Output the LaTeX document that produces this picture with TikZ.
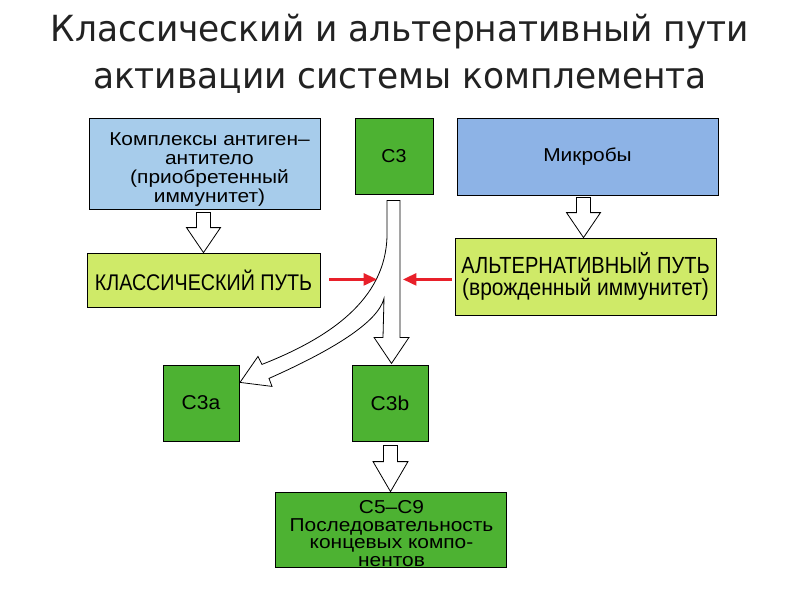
\documentclass[tikz,border=0pt]{standalone}
\usepackage{fontspec}
\usetikzlibrary{calc,arrows.meta}
\setmainfont{Liberation Sans}
\newfontfamily\fA[FakeStretch=1.12]{Liberation Sans}
\newfontfamily\fB[FakeStretch=0.87]{Liberation Sans}
\newfontfamily\fC[FakeStretch=0.86]{Liberation Sans}
\newfontfamily\fD[FakeStretch=0.90]{Liberation Sans}
\newfontfamily\fN[FakeStretch=1.05]{Liberation Sans}
\newfontfamily\titlefont[FakeStretch=0.955]{DejaVu Sans}
\definecolor{greenc}{HTML}{4DB232}
\definecolor{lgreen}{HTML}{CFEA68}
\definecolor{blue1}{HTML}{A7CCEB}
\definecolor{blue2}{HTML}{8DB3E6}
\definecolor{redc}{HTML}{E8202A}
\definecolor{titlec}{HTML}{222222}
\newcommand\blockdown[4]{% start, tip, head length, head half width
  \draw[blk] let \p1=(#1), \p2=(#2) in
    (\x2-5.25pt,\y1) -- (\x2+5.25pt,\y1) -- (\x2+5.25pt,\y2+#3) -- (\x2+#4,\y2+#3)
    -- (\x2,\y2) -- (\x2-#4,\y2+#3) -- (\x2-5.25pt,\y2+#3) -- cycle;}
\tikzset{
  box/.style={draw=black, line width=0.6pt, inner sep=0pt, align=center},
  lbl/.style={inner sep=0pt, align=center},
  blk/.style={draw=black, line width=0.6pt, fill=white, line join=miter},
  redarr/.style={draw=redc, line width=1.8pt, -{Triangle[length=10pt,width=9pt]}},
  ttl/.style={font=\titlefont\fontsize{27}{30}\selectfont, text=titlec, anchor=base, inner sep=0pt},
}
\begin{document}
\begin{tikzpicture}[x=0.75pt,y=-0.75pt]
\fill[white] (0,0) rectangle (800,600);
\useasboundingbox (0,0) rectangle (800,600);
% title
\node[ttl] (t1) at (400,41) {Классический и альтернативный пути};
\node[ttl] (t2) at (400,88) {активации системы комплемента};
% boxes
\node[box, fill=blue1, minimum width=173.25pt, minimum height=68.25pt] (b1) at (204.5,163.5) {};
\node[lbl, font=\fA\fontsize{14}{14.25}\selectfont] (b1t) at ($(b1.center)+(5,6)$)
      {Комплексы антиген–\\антитело\\(приобретенный\\иммунитет)};
\node[box, fill=greenc, minimum width=58.5pt, minimum height=57pt,
      font=\fN\fontsize{14}{14}\selectfont] (c3) at (394,156) {C3};
\node[box, fill=blue2, minimum width=195.75pt, minimum height=57.75pt,
      font=\fA\fontsize{14}{14}\selectfont] (mic) at (587.5,156.5) {Микробы};
\node[box, fill=lgreen, minimum width=174.75pt, minimum height=40.5pt,
      font=\fB\fontsize{17}{18}\selectfont] (cl) at (203.5,280) {КЛАССИЧЕСКИЙ ПУТЬ};
\node[box, fill=lgreen, minimum width=195.75pt, minimum height=57.75pt,
      font=\fontsize{17.5}{16.5}\selectfont] (alt) at (585.5,276.5)
      {{\fC АЛЬТЕРНАТИВНЫЙ ПУТЬ}\\{\fD (врожденный иммунитет)}};
\node[box, fill=greenc, minimum width=57pt, minimum height=57pt,
      font=\fN\fontsize{15}{15}\selectfont] (c3a) at (201,403) {C3a};
\node[box, fill=greenc, minimum width=57pt, minimum height=57pt,
      font=\fN\fontsize{15}{15}\selectfont] (c3b) at (390,403) {C3b};
\node[box, fill=greenc, minimum width=173.25pt, minimum height=56.25pt] (c5) at (390.5,529.5) {};
\node[lbl, font=\fA\fontsize{14}{13.1}\selectfont] (c5t) at ($(c5.center)+(1,4)$)
      {C5–C9\\Последовательность\\концевых компо-\\нентов};
% block arrows
\blockdown{$(b1.south)+(0,3)$}{cl.north}{18.75pt}{12.75pt}
\blockdown{$(mic.south)+(-4,2)$}{$(alt.north)+(-2,0)$}{18.75pt}{12.75pt}
\blockdown{$(c3b.south)+(0,4)$}{c5.north}{22.5pt}{13.1pt}
% curved split arrow from C3
\begin{scope}[shift={(c3.south)}]
\draw[blk] (-7,6) -- (6,6) -- (6,143) -- (15,143) -- (-2.5,169) -- (-20,143) -- (-11,143)
  -- (-10,104) .. controls (-16,128) and (-62,156) .. (-125,184)
  -- (-122,192) -- (-154,188) -- (-136,162) -- (-132,170)
  .. controls (-66,144) and (-8,106) .. (-7,41) -- cycle;
\coordinate (lt) at (-17,85);
\coordinate (rt) at (9,85);
\end{scope}
% red arrows
\draw[redarr] ($(lt -| cl.east)+(9,0)$) -- (lt);
\draw[redarr] ($(rt -| alt.west)+(-3,0)$) -- (rt);
\end{tikzpicture}
\end{document}
